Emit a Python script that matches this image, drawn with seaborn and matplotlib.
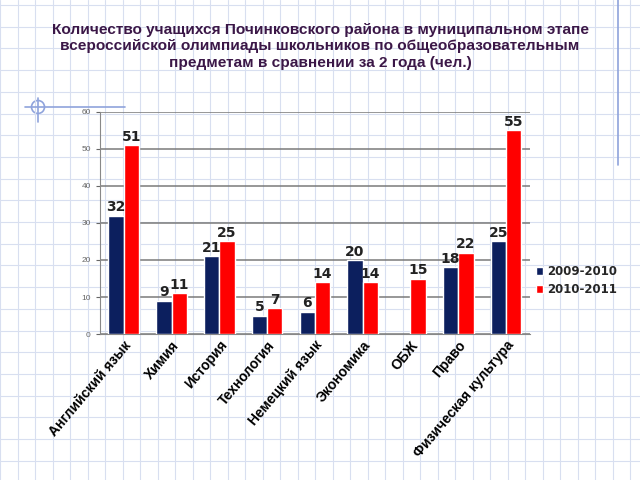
import numpy as np
import pandas as pd
import matplotlib
matplotlib.use('Agg')
import matplotlib.pyplot as plt
import seaborn as sns

subjects = ['Английский язык', 'Химия', 'История', 'Технология', 'Немецкий язык',
            'Экономика', 'ОБЖ', 'Право', 'Физическая культура']
y2010 = [32, 9, 21, 5, 6, 20, np.nan, 18, 25]
y2011 = [51, 11, 25, 7, 14, 14, 15, 22, 55]
seasons = ['2009-2010', '2010-2011']
colors = ['#0c1f5e', '#ff0000']
title = ('Количество учащихся Починковского района в муниципальном этапе\n'
         'всероссийской олимпиады школьников по общеобразовательным\n'
         'предметам в сравнении за 2 года (чел.)')

data = pd.DataFrame({
    'subject': subjects * 2,
    'count': y2010 + y2011,
    'season': [seasons[0]] * len(subjects) + [seasons[1]] * len(subjects),
})

sns.set_style('white')
plt.rcParams['font.family'] = ['Liberation Sans', 'DejaVu Sans']

fig = plt.figure(figsize=(6.4, 4.8), dpi=100)

# squared paper background
bg = fig.add_axes([0, 0, 1, 1], zorder=0)
bg.set_xlim(0, 640)
bg.set_ylim(480, 0)
bg.axis('off')
for x in np.arange(0, 640, 17.5):
    bg.axvline(x, color='#d8dff0', lw=0.8)
for y in np.arange(5, 480, 21.7):
    bg.axhline(y, color='#d8dff0', lw=0.8)
bg.plot([618, 618], [0, 165], color='#8fa3dc', lw=1.2)
bg.plot([25, 125], [107, 107], color='#8fa3dc', lw=1.2)
bg.plot([38, 38], [98, 122], color='#8fa3dc', lw=1.2)
bg.add_patch(plt.Circle((38, 107), 6.5, fill=False, color='#8fa3dc', lw=1.2))

fig.text(0.5, 0.953, title, ha='center', va='top', fontsize=11.1, fontweight='bold',
         color='#3b1747', linespacing=1.25)

ax = fig.add_axes([0.156, 0.304, 0.672, 0.463], zorder=1)
ax.patch.set_alpha(0)
sns.barplot(data=data, x='subject', y='count', hue='season', palette=colors,
            saturation=1, width=0.64, gap=0, ax=ax, zorder=3)

ax.set_ylim(0, 60)
ax.set_yticks(range(0, 61, 10))
ax.yaxis.grid(True, color='#7a7a7a', lw=1.1)
ax.set_axisbelow(True)
ax.set_xlabel('')
ax.set_ylabel('')
ax.tick_params(axis='y', labelsize=6, colors='#666666', length=3, left=True)
ax.tick_params(axis='x', length=0, pad=3)
ax.set_xticks(range(len(subjects)))
ax.set_xticklabels(subjects, rotation=50, ha='right', rotation_mode='anchor',
                   fontsize=10, fontweight='bold', color='black')
ax.set_xticks(np.arange(-0.5, len(subjects), 1), minor=True)
ax.tick_params(axis='x', which='minor', length=3, color='#888888')
for s in ['top', 'right']:
    ax.spines[s].set_visible(False)
ax.spines['left'].set_color('#888888')
ax.spines['bottom'].set_color('#888888')

for cont in ax.containers:
    labels = ['' if np.isnan(v) else f'{int(v)}' for v in cont.datavalues]
    ax.bar_label(cont, labels=labels, padding=1, fontsize=10, fontweight='bold',
                 color='#222222', family='DejaVu Sans')

ax.legend(loc='center left', bbox_to_anchor=(0.99, 0.24), frameon=False,
          fontsize=8.5, handlelength=0.6, handleheight=0.6, handletextpad=0.3,
          labelspacing=0.45)
for t in ax.get_legend().get_texts():
    t.set_fontweight('bold')
    t.set_family('DejaVu Sans')

fig.savefig('out.png', dpi=100)
